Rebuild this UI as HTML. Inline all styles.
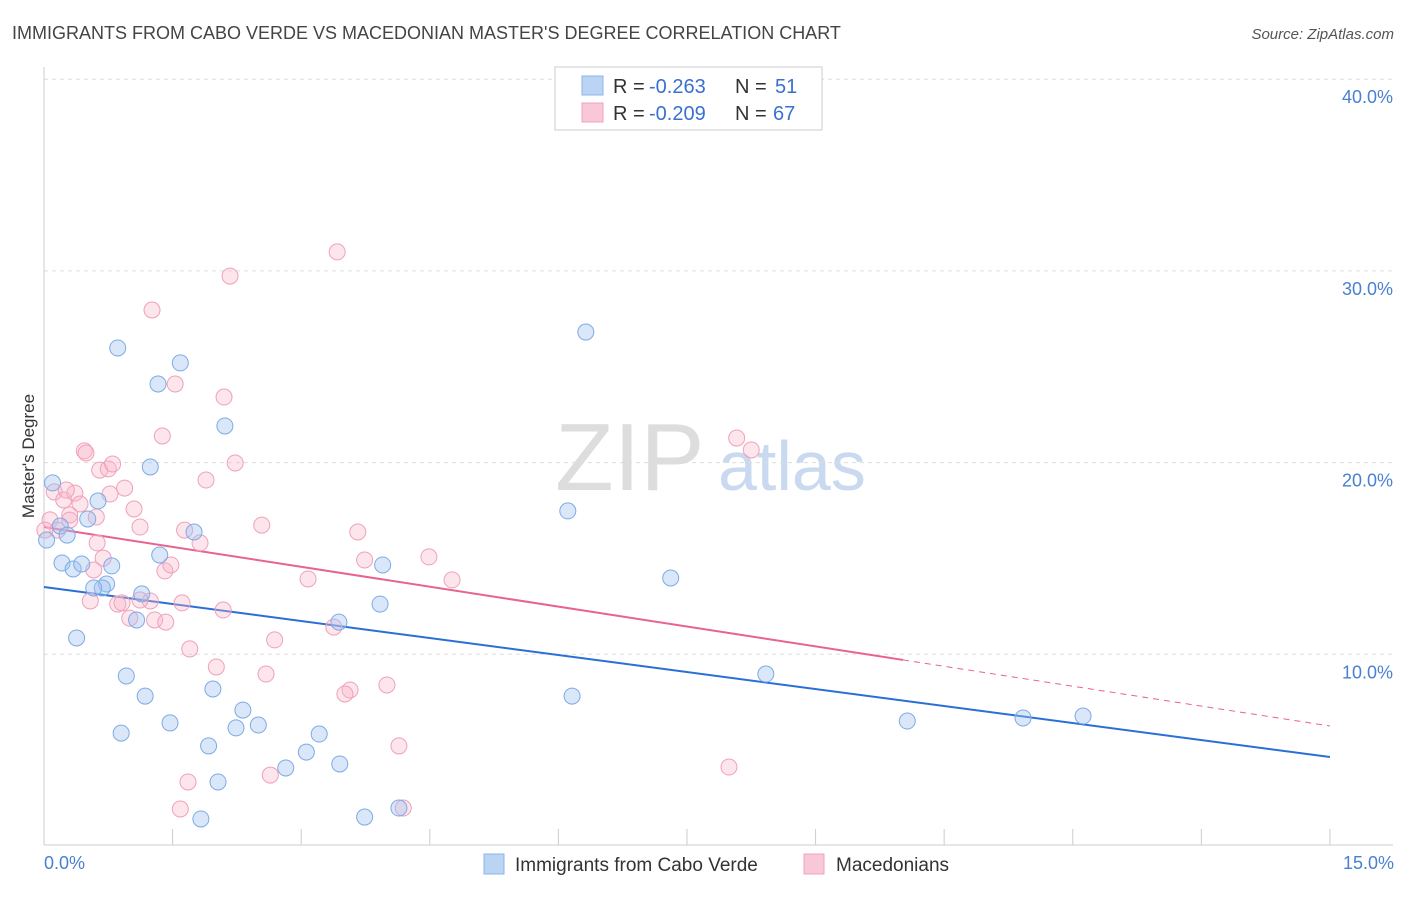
<!DOCTYPE html>
<html><head><meta charset="utf-8"><style>
body{margin:0;background:#fff;font-family:"Liberation Sans",sans-serif;}
svg text{font-family:"Liberation Sans",sans-serif;}
</style></head><body>
<svg id="chart" width="1406" height="892" xmlns="http://www.w3.org/2000/svg">
<text x="12" y="39" font-size="18" fill="#444">IMMIGRANTS FROM CABO VERDE VS MACEDONIAN MASTER'S DEGREE CORRELATION CHART</text>
<text x="1394" y="39" font-size="15" fill="#555" text-anchor="end" font-style="italic">Source: ZipAtlas.com</text>
<g>
<text x="555" y="490" font-size="96" fill="#ddd" font-family="Liberation Serif,serif">ZIP</text>
<text x="718" y="490" font-size="70" fill="#c8d9f0">atlas</text>
</g>
<g id="grid"></g>
<g id="axes"></g>
<g id="trends"></g>
<g id="points"></g>
<text transform="translate(34,456) rotate(-90)" font-size="17" fill="#333" text-anchor="middle">Master's Degree</text>
<text x="44" y="869" font-size="18" fill="#4a80d0">0.0%</text>
<text x="1394" y="869" font-size="18" fill="#4a80d0" text-anchor="end">15.0%</text>
<g>
<rect x="555" y="67" width="267" height="63" fill="#fff" stroke="#ccc"/>
<rect x="582" y="76" width="21" height="19" fill="#bcd4f4" stroke="#8ab4e8"/>
<text x="613" y="93" font-size="20" fill="#333">R =</text>
<text x="649" y="93" font-size="20" fill="#3a70d0">-0.263</text>
<text x="735" y="93" font-size="20" fill="#333">N =</text>
<text x="775" y="93" font-size="20" fill="#3a70d0">51</text>
<rect x="582" y="103" width="21" height="19" fill="#f9c8d6" stroke="#f0a0bc"/>
<text x="613" y="120" font-size="20" fill="#333">R =</text>
<text x="649" y="120" font-size="20" fill="#3a70d0">-0.209</text>
<text x="735" y="120" font-size="20" fill="#333">N =</text>
<text x="773" y="120" font-size="20" fill="#3a70d0">67</text>
</g>
<g>
<rect x="484" y="854" width="20" height="20" fill="#bcd4f4" stroke="#8ab4e8"/>
<text x="515" y="871" font-size="19" fill="#333">Immigrants from Cabo Verde</text>
<rect x="804" y="854" width="20" height="20" fill="#f9c8d6" stroke="#f0a0bc"/>
<text x="836" y="871" font-size="19" fill="#333">Macedonians</text>
</g>
</svg>
<script>
const yTicks=[10,20,30,40];
const yTickLabels=["10.0%","20.0%","30.0%","40.0%"];
const xTicks=[0,1.5,3,4.5,6,7.5,9,10.5,12,13.5,15];
const blueX=[.10,.03,.19,.27,.51,.21,.34,.44,.63,.79,.73,.68,.58,.38,.86,1.33,1.59,1.24,2.11,1.35,1.75,1.14,1.08,.96,1.18,.90,1.47,1.97,2.32,1.92,2.24,2.50,2.03,1.83,2.82,3.06,3.21,3.45,3.44,3.95,3.92,3.74,4.14,6.11,6.32,7.31,6.16,8.42,10.07,11.42,12.12];
const blueY=[18.94,15.96,16.69,16.22,17.06,14.76,14.45,14.71,18.00,14.61,13.67,13.46,13.46,10.85,25.98,24.10,25.20,19.77,21.91,15.18,16.38,13.15,11.79,8.87,7.82,5.89,6.42,8.19,7.09,5.22,6.16,6.31,3.34,1.41,4.07,4.90,5.84,4.28,11.68,14.66,12.62,1.51,1.98,17.48,26.81,13.98,7.82,8.97,6.52,6.68,6.78];
const pinkX=[.12,.07,.16,.23,.30,.36,.42,.47,.49,.65,.75,.80,.77,.94,1.05,1.12,.62,.69,.58,.54,.86,.91,1.00,1.24,1.29,1.42,1.41,1.48,1.38,1.53,1.26,2.17,3.42,2.10,2.23,1.89,1.64,1.82,1.61,2.09,1.70,2.01,2.54,2.69,3.08,3.38,3.66,3.74,2.59,3.57,3.51,4.00,4.49,4.76,4.14,1.68,1.59,2.64,4.19,8.08,8.25,7.99,.01,.26,.61,1.12,.30];
const pinkY=[18.47,17.01,16.48,18.05,17.27,18.41,17.84,20.61,20.50,19.61,19.67,19.93,18.36,18.67,17.58,16.64,15.81,15.02,14.40,12.78,12.62,12.68,11.89,12.78,11.79,11.68,14.35,14.66,21.39,24.10,27.96,29.73,30.99,23.42,19.98,19.09,16.48,15.81,12.68,12.31,10.28,9.34,16.74,10.75,13.93,11.42,16.38,14.92,8.97,8.14,7.93,8.40,15.08,13.88,5.22,3.34,1.93,3.70,1.98,21.28,20.66,4.12,16.48,18.57,17.16,12.83,17.0];
const blueTrend=[13.51,4.64];
const pinkTrend=[16.64,6.26];
const pinkSolidEnd=10.02;
const X=v=>44+v*85.73, Y=v=>846-v*19.17;
const NS="http://www.w3.org/2000/svg";
function mk(t,a,p){const e=document.createElementNS(NS,t);for(const k in a)e.setAttribute(k,a[k]);p.appendChild(e);return e;}
const grid=document.getElementById('grid'),axes=document.getElementById('axes'),tr=document.getElementById('trends'),pts=document.getElementById('points');
yTicks.forEach((t,i)=>{
 const l=mk('line',{x1:44,x2:1393,y1:Y(t),y2:Y(t),stroke:'#ddd','stroke-dasharray':'4,4'},grid);
 
 
 const tx=mk('text',{x:1393,y:Y(t)+24,'font-size':18,fill:'#4a80d0','text-anchor':'end'},grid);
 tx.textContent=yTickLabels[i];
 
 
});
const ax=mk('line',{x1:44,x2:1393,y1:845,y2:845,stroke:'#ccc'},axes);


const ay=mk('line',{x1:44,x2:44,y1:67,y2:845,stroke:'#ccc'},axes);


xTicks.forEach(t=>{
 const l=mk('line',{x1:X(t),x2:X(t),y1:829,y2:845,stroke:'#ccc'},axes);
 
 
});
function dots(xs,ys,fill,stroke,name){xs.forEach((x,i)=>{
 const c=mk('circle',{cx:X(x),cy:Y(ys[i]),r:8,fill:fill,stroke:stroke,'stroke-width':1},pts);
 
 
});}
dots(pinkX,pinkY,'rgba(248,180,200,0.35)','#f0a0bc','macedonian-point');
dots(blueX,blueY,'rgba(160,196,240,0.4)','#7eaae6','cabo-verde-point');
const bl=mk('line',{x1:X(0),y1:Y(blueTrend[0]),x2:X(15),y2:Y(blueTrend[1]),stroke:'#2a6fd6','stroke-width':2},tr);


const pe=pinkTrend[0]+(pinkTrend[1]-pinkTrend[0])*pinkSolidEnd/15;
const pl=mk('line',{x1:X(0),y1:Y(pinkTrend[0]),x2:X(pinkSolidEnd),y2:Y(pe),stroke:'#e8638e','stroke-width':2},tr);


const pd=mk('line',{x1:X(pinkSolidEnd),y1:Y(pe),x2:X(15),y2:Y(pinkTrend[1]),stroke:'#e8638e','stroke-width':1,'stroke-dasharray':'6,5'},tr);


</script>
</body></html>
